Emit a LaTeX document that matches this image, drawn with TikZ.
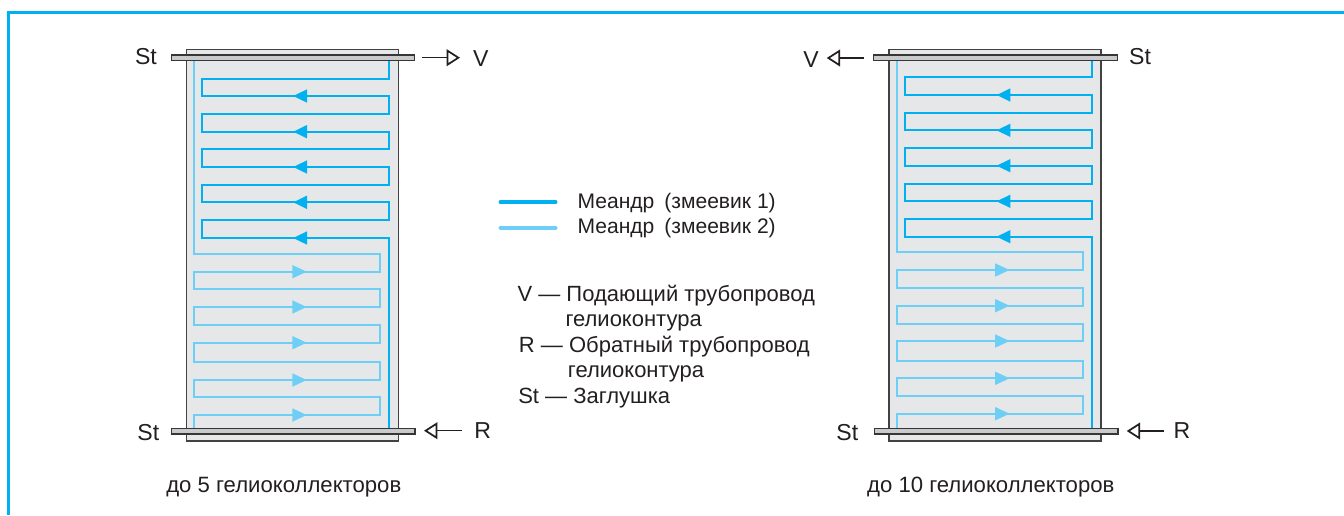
\documentclass[tikz,border=0pt]{standalone}
\usepackage{fontspec}
\setmainfont{Liberation Sans}
\usetikzlibrary{arrows.meta}
\definecolor{ink}{HTML}{231F20}
\definecolor{coilA}{HTML}{00B0F0}
\definecolor{coilB}{HTML}{6DCFF6}
\definecolor{panel}{HTML}{E6E7E8}
\definecolor{flangefill}{HTML}{C9CACB}
\tikzset{
  body/.style={draw=ink!85,line width=1.3pt,fill=panel},
  flange/.style={draw=ink!90,line width=1pt,fill=flangefill},
  coila/.style={draw=coilA,line width=1.25pt,line join=miter},
  coilb/.style={draw=coilB,line width=1.25pt,line join=miter},
  port/.style={draw=ink,line width=0.9pt,-{Triangle[open,fill=white,length=10pt,width=12.5pt,line width=1.3pt]}},
  lab/.style={anchor=center,inner sep=0pt,text=ink,font=\fontsize{17.3}{19}\selectfont},
  txt/.style={anchor=base west,inner sep=0pt,text=ink,font=\fontsize{16.5}{18}\selectfont},
  legendtxt/.style={anchor=base west,inner sep=0pt,text=ink,font=\fontsize{15.8}{18}\selectfont},
  captext/.style={anchor=base,inner sep=0pt,text=ink,font=\fontsize{16.6}{18}\selectfont},
  legendline/.style={line width=3pt,line cap=round}
}
\newcommand{\flowL}[3]{\fill[#1] (#2,#3) -- ({#2+13.7},{#3-6.7}) -- ({#2+13.7},{#3+6.7}) -- cycle;}
\newcommand{\flowR}[3]{\fill[#1] (#2,#3) -- ({#2-14.4},{#3-6.7}) -- ({#2-14.4},{#3+6.7}) -- cycle;}
\begin{document}
\begin{tikzpicture}[x=0.75pt,y=-0.75pt]
\useasboundingbox (0,0) rectangle (1344,515);
% frame
\coordinate (fa) at (1344,12.4);
\coordinate (fb) at (8.5,12.4);
\coordinate (fc) at (8.5,515);
\draw[coilA,line width=2.2pt] (fa) -- (fb) -- (fc);

% left panel
\draw[body] (186.5,49.5) rectangle (398.5,441);
\draw[coilb] (194,61) -- (194,253.7) -- (379.7,253.7) -- (379.7,271.7) -- (194,271.7) -- (194,289.3) -- (379.7,289.3) -- (379.7,307) -- (194,307) -- (194,325) -- (379.7,325) -- (379.7,342.7) -- (194,342.7) -- (194,362) -- (379.7,362) -- (379.7,380) -- (194,380) -- (194,397.3) -- (379.7,397.3) -- (379.7,415) -- (194,415) -- (194,428.3);
\draw[coila] (389,61) -- (389,78.7) -- (202,78.7) -- (202,96) -- (389,96) -- (389,114) -- (202,114) -- (202,131.7) -- (389,131.7) -- (389,149.3) -- (202,149.3) -- (202,167) -- (389,167) -- (389,184.7) -- (202,184.7) -- (202,202.3) -- (389,202.3) -- (389,220.3) -- (202,220.3) -- (202,238) -- (389,238) -- (389,428.3);
\foreach \r in {96,131.7,167,202.3,238}{\flowL{coilA}{293.3}{\r}}
\foreach \r in {271.7,307,342.7,380,415}{\flowR{coilB}{306.7}{\r}}
\draw[flange] (171.3,54.9) rectangle (414.4,60.6);
\draw[flange] (171.6,428.6) rectangle (415.1,434);
\coordinate (lva) at (422.3,57.7);
\coordinate (lvb) at (460,57.7);
\draw[port] (lva) -- (lvb);
\coordinate (lra) at (462,430.7);
\coordinate (lrb) at (424,430.7);
\draw[port] (lra) -- (lrb);
\node[lab] (lst) at (146,56.7) {St};
\node[lab] (lv) at (480.7,58.5) {V};
\node[lab] (lsb) at (148.3,432.5) {St};
\node[lab] (lr) at (482.7,431) {R};
\node[captext] (lc) at (283.8,492.6) {до 5 гелиоколлекторов};

% right panel
\draw[body] (889.1,49.5) rectangle (1101.2,441);
\draw[coilb] (897,61) -- (897,252.3) -- (1082.7,252.3) -- (1082.7,270) -- (897,270) -- (897,288) -- (1082.7,288) -- (1082.7,305.7) -- (897,305.7) -- (897,323.7) -- (1082.7,323.7) -- (1082.7,341) -- (897,341) -- (897,360.7) -- (1082.7,360.7) -- (1082.7,378.3) -- (897,378.3) -- (897,396) -- (1082.7,396) -- (1082.7,413.7) -- (897,413.7) -- (897,428.3);
\draw[coila] (1091.7,61) -- (1091.7,77) -- (905,77) -- (905,95) -- (1091.7,95) -- (1091.7,112.7) -- (905,112.7) -- (905,130.3) -- (1091.7,130.3) -- (1091.7,148) -- (905,148) -- (905,165.7) -- (1091.7,165.7) -- (1091.7,183.7) -- (905,183.7) -- (905,201.3) -- (1091.7,201.3) -- (1091.7,219) -- (905,219) -- (905,236.7) -- (1091.7,236.7) -- (1091.7,428.3);
\foreach \r in {95,130.3,165.7,201.3,236.7}{\flowL{coilA}{996.7}{\r}}
\foreach \r in {270,305.7,341,378.3,413.7}{\flowR{coilB}{1009.5}{\r}}
\draw[flange] (873.6,54.9) rectangle (1117.4,60.6);
\draw[flange] (874.3,428.6) rectangle (1118.1,434);
\coordinate (rva) at (864,58);
\coordinate (rvb) at (826.7,58);
\draw[port] (rva) -- (rvb);
\coordinate (rra) at (1164,431);
\coordinate (rrb) at (1126.7,431);
\draw[port] (rra) -- (rrb);
\node[lab] (rst) at (1140,56.7) {St};
\node[lab] (rv) at (811,59.5) {V};
\node[lab] (rsb) at (847.3,432.5) {St};
\node[lab] (rr) at (1182,431) {R};
\node[captext] (rc) at (990.8,492.6) {до 10 гелиоколлекторов};

% legend
\coordinate (laa) at (500.5,202.3);
\coordinate (lab) at (555.5,202.3);
\coordinate (lba) at (500.5,227.7);
\coordinate (lbb) at (555.5,227.7);
\draw[legendline,coilA] (laa) -- (lab);
\draw[legendline,coilB] (lba) -- (lbb);
\node[legendtxt] (t1) at (577.3,208) {Меандр\hspace{7.5pt}(змеевик 1)};
\node[legendtxt] (t2) at (577.3,233) {Меандр\hspace{7.5pt}(змеевик 2)};
\node[txt] (t3) at (517.3,301.7) {V — Подающий трубопровод};
\node[txt] (t4) at (565.3,326.7) {гелиоконтура};
\node[txt] (t5) at (518.7,352.3) {R — Обратный трубопровод};
\node[txt] (t6) at (567.7,377) {гелиоконтура};
\node[txt] (t7) at (518,403) {St — Заглушка};
\end{tikzpicture}
\end{document}
